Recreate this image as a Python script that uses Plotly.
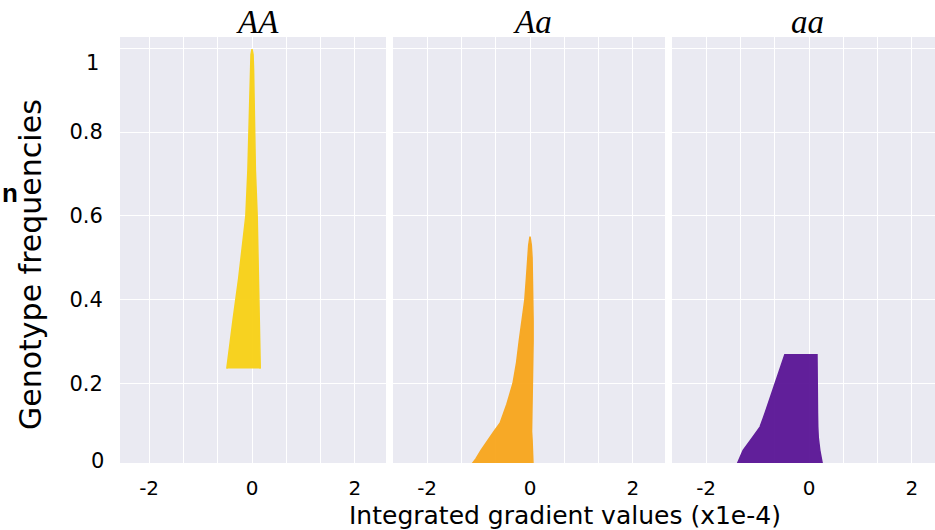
import plotly.graph_objects as go

# ---- data (x in units of 1e-4, y = genotype frequency) ----
panel_titles = ["<i>AA</i>", "<i>Aa</i>", "<i>aa</i>"]

AA_y     = [0.235, 0.30, 0.35, 0.45, 0.60, 0.71, 0.85, 0.95, 0.985, 0.998]
AA_left  = [-0.49, -0.43, -0.37, -0.26, -0.12, -0.08, -0.05, -0.03, -0.02, 0.0]
AA_right = [0.16, 0.15, 0.14, 0.12, 0.10, 0.065, 0.045, 0.03, 0.02, 0.0]

Aa_y     = [0.0, 0.02, 0.04, 0.065, 0.085, 0.105, 0.13, 0.15, 0.20, 0.25, 0.30,
            0.35, 0.40, 0.45, 0.50, 0.53, 0.55]
Aa_left  = [-1.17, -1.05, -0.95, -0.82, -0.70, -0.58, -0.50, -0.45, -0.33, -0.26, -0.21,
            -0.15, -0.10, -0.07, -0.045, -0.025, 0.0]
Aa_right = [0.06, 0.055, 0.05, 0.04, 0.03, 0.03, 0.03, 0.035, 0.04, 0.05, 0.06,
            0.06, 0.06, 0.05, 0.04, 0.025, 0.0]

aa_y     = [0.0, 0.02, 0.04, 0.07, 0.096, 0.13, 0.177, 0.22, 0.256, 0.268]
aa_left  = [-1.42, -1.35, -1.28, -1.10, -0.95, -0.85, -0.72, -0.60, -0.50, -0.47]
aa_right = [0.27, 0.24, 0.21, 0.18, 0.17, 0.165, 0.155, 0.155, 0.155, 0.155]

series = [
    (AA_y, AA_left, AA_right, "#F8D115"),
    (Aa_y, Aa_left, Aa_right, "#F8A61C"),
    (aa_y, aa_left, aa_right, "#5A1596"),
]

x_grid_vals = [-2, -4/3, -2/3, 0, 2/3, 4/3, 2]
x_grid_text = ["-2", "", "", "0", "", "", "2"]
y_grid_vals = [0.2, 0.4, 0.6, 0.8, 1.0]
y_grid_text = ["0.2", "0.4", "0.6", "0.8", ""]

x_ranges = [[-2.566, 2.604], [-2.663, 2.624], [-2.663, 2.449]]
domains = [[0.0, 0.3264], [0.335, 0.6687], [0.6773, 1.0]]

FONT = "DejaVu Sans"
BG = "#EAEAF2"

fig = go.Figure()
for i, (ys, xl, xr, col) in enumerate(series):
    xs = list(xl) + list(reversed(xr))
    yy = list(ys) + list(reversed(ys))
    fig.add_trace(go.Scatter(
        x=xs, y=yy, mode="lines", fill="toself", fillcolor=col,
        line=dict(color=col, width=1.5), opacity=0.95,
        xaxis="x" if i == 0 else f"x{i+1}", yaxis="y",
        showlegend=False, hoverinfo="skip"))

layout = dict(
    width=935, height=530,
    margin=dict(l=120, r=0, t=37, b=67),
    paper_bgcolor="white",
    plot_bgcolor=BG,
    font=dict(family=FONT, size=21, color="black"),
    yaxis=dict(range=[0.0096, 1.027], tickvals=y_grid_vals, ticktext=y_grid_text,
               showgrid=True, gridcolor="white", gridwidth=1, zeroline=False,
               ticks="outside", ticklen=12, tickcolor="rgba(0,0,0,0)",
               showline=False, domain=[0, 1]),
)
for i in range(3):
    key = "xaxis" if i == 0 else f"xaxis{i+1}"
    layout[key] = dict(range=x_ranges[i], domain=domains[i], anchor="y",
                       tickvals=x_grid_vals, ticktext=x_grid_text,
                       tickfont=dict(size=20),
                       showgrid=True, gridcolor="white", gridwidth=1, zeroline=False,
                       ticks="outside", ticklen=7, tickcolor="rgba(0,0,0,0)",
                       showline=False)
fig.update_layout(**layout)

ann = []
title_px = [257, 532, 807]
for t, px in zip(panel_titles, title_px):
    ann.append(dict(text=t, x=(px - 120) / 815, y=(463 - 22) / 426, xref="paper", yref="paper",
                    showarrow=False, xanchor="center", yanchor="middle",
                    font=dict(family="Liberation Serif", size=33, color="black")))
ann.append(dict(text="Integrated gradient values (x1e-4)", x=(565 - 120) / 815, y=-(515 - 463) / 426,
                xref="paper", yref="paper", showarrow=False, xanchor="center", yanchor="middle",
                font=dict(family=FONT, size=25)))
ann.append(dict(text="Genotype frequencies", x=(30 - 120) / 815, y=(463 - 265) / 426,
                xref="paper", yref="paper", showarrow=False, textangle=-90,
                xanchor="center", yanchor="middle", font=dict(family=FONT, size=30)))
ann.append(dict(text="1", x=(101 - 120) / 815, y=(463 - 63) / 426, xref="paper", yref="paper",
                showarrow=False, xanchor="right", yanchor="middle", font=dict(family=FONT, size=21)))
ann.append(dict(text="0", x=(106 - 120) / 815, y=(463 - 461) / 426, xref="paper", yref="paper",
                showarrow=False, xanchor="right", yanchor="middle", font=dict(family=FONT, size=21)))
ann.append(dict(text="<b>n</b>", x=(0 - 120) / 815, y=(463 - 193) / 426, xref="paper", yref="paper",
                showarrow=False, xanchor="left", yanchor="middle",
                font=dict(family="Liberation Sans", size=26)))
fig.update_layout(annotations=ann)

fig.write_html("out.html")
